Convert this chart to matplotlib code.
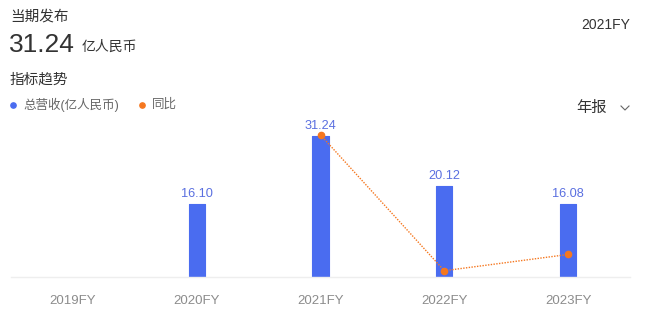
import matplotlib

matplotlib.use('Agg')
import numpy as np
from matplotlib import pyplot as plt
from matplotlib.lines import Line2D

# data
years = ['2019FY', '2020FY', '2021FY', '2022FY', '2023FY']
revenue = [np.nan, 16.10, 31.24, 20.12, 16.08]   # 总营收 (亿人民币)
yoy = [np.nan, np.nan, 94.04, -35.60, -20.08]    # 同比 (%)

BLUE = '#4a6cf0'
BLUE_TEXT = '#5a6fe0'
ORANGE = '#f5771f'
DARK = '#333333'
GRAY = '#8c8c8c'
FONTS = ['Liberation Sans', 'Noto Sans CJK SC', 'DejaVu Sans']

plt.rcParams['font.family'] = FONTS

W, H = 645, 312
fig = plt.figure(figsize=(W / 100, H / 100), dpi=100)


def fx(px):
    return px / W


def fy(py):
    return 1 - py / H


# header texts
fig.text(fx(10), fy(17), '当期发布', fontsize=10.5, color=DARK, va='center', ha='left')
fig.text(fx(9), fy(45), '31.24', fontsize=19, color=DARK, va='center', ha='left')
fig.text(fx(82), fy(47), '亿人民币', fontsize=10, color=DARK, va='center', ha='left')
fig.text(fx(630), fy(25), '2021FY', fontsize=10, color=DARK, va='center', ha='right')
fig.text(fx(10), fy(80), '指标趋势', fontsize=10.5, color=DARK, va='center', ha='left')

# legend
for px, col in [(13, BLUE), (142, ORANGE)]:
    fig.lines.append(Line2D([fx(px)], [fy(105)], transform=fig.transFigure,
                            marker='o', markersize=3.8, color=col, linestyle='none'))
fig.text(fx(23), fy(105), '总营收(亿人民币)', fontsize=9, color='#666666', va='center', ha='left')
fig.text(fx(152), fy(105), '同比', fontsize=9, color='#666666', va='center', ha='left')

# period selector
fig.text(fx(607), fy(108), '年报', fontsize=11, color=DARK, va='center', ha='right')
fig.lines.append(Line2D([fx(621), fx(625), fx(629)], [fy(106), fy(110), fy(106)],
                        transform=fig.transFigure, color='#666666', lw=0.8))

# chart
top, base = 115, 277
ax = fig.add_axes([fx(11), fy(base), fx(630) - fx(11), (base - top) / H])
x = np.arange(len(years))
ax.bar(x, revenue, width=0.13, color=BLUE, edgecolor=BLUE, linewidth=0.8,
       joinstyle='round', zorder=2)
for xi, val in zip(x, revenue):
    if not np.isnan(val):
        ax.annotate(f'{val:.2f}', (xi, val), xytext=(0, 3), textcoords='offset points',
                    ha='center', va='bottom', fontsize=9.2, color=BLUE_TEXT)
ax.set_xlim(-0.5, 4.5)
ax.set_ylim(0, 35.9)
ax.set_xticks(x)
ax.set_xticklabels(years, fontsize=9.5, color=GRAY)
ax.tick_params(axis='x', length=0, pad=13)
ax.set_yticks([])
for side in ['top', 'left', 'right']:
    ax.spines[side].set_visible(False)
ax.spines['bottom'].set_color('#eeeeee')
ax.spines['bottom'].set_linewidth(1)
ax.patch.set_visible(False)

ax2 = ax.twinx()
ax2.plot(x, yoy, color=ORANGE, linestyle=(0, (1, 1)), linewidth=1,
         marker='o', markersize=4.5, zorder=3)
ax2.set_ylim(-41.6, 113.1)
ax2.set_yticks([])
for side in ['top', 'left', 'right', 'bottom']:
    ax2.spines[side].set_visible(False)

fig.savefig('out.png', dpi=100)
plt.close(fig)
